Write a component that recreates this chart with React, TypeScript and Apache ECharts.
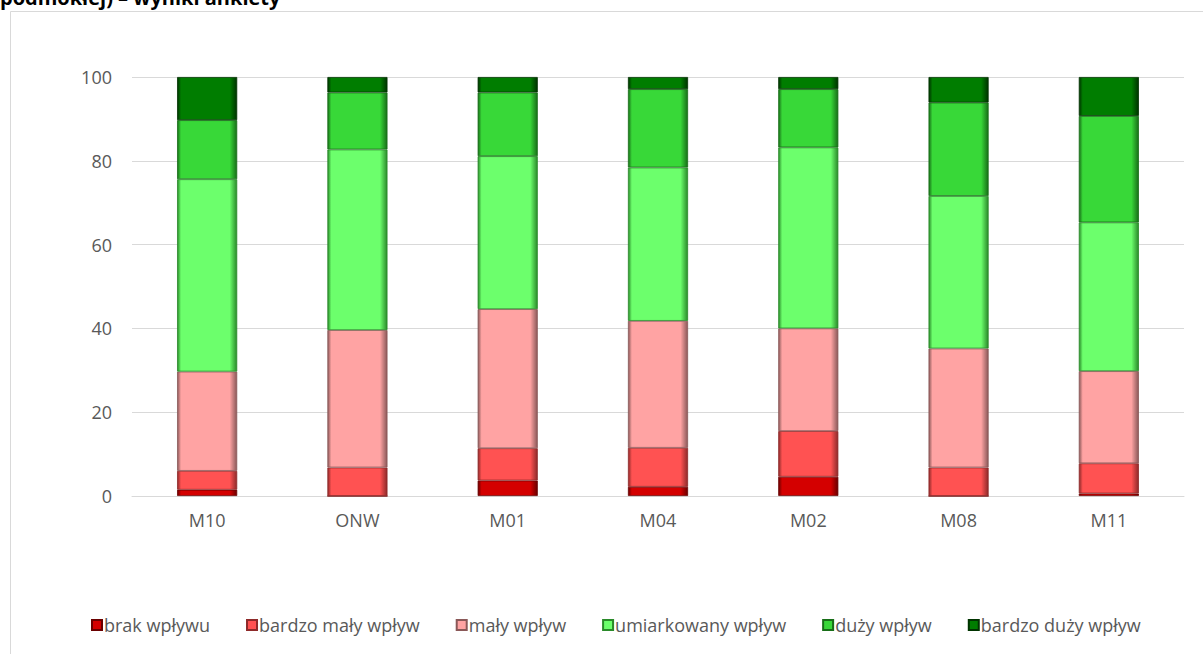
import React, { useEffect, useRef } from "react";
import * as echarts from "echarts";

const categories = ["M10", "ONW", "M01", "M04", "M02", "M08", "M11"];
const seriesNames = [
  "brak wpływu",
  "bardzo mały wpływ",
  "mały wpływ",
  "umiarkowany wpływ",
  "duży wpływ",
  "bardzo duży wpływ",
];
const brakWplywu = [1.5, 0, 3.7, 2.2, 4.6, 0, 0.6];
const bardzoMalyWplyw = [4.5, 6.8, 7.7, 9.3, 10.9, 6.8, 7.2];
const malyWplyw = [23.7, 32.8, 33.2, 30.3, 24.5, 28.4, 22.0];
const umiarkowanyWplyw = [45.9, 43.1, 36.5, 36.6, 43.2, 36.4, 35.5];
const duzyWplyw = [14.1, 13.6, 15.2, 18.7, 13.9, 22.3, 25.4];
const bardzoDuzyWplyw = [10.3, 3.7, 3.7, 2.9, 2.9, 6.1, 9.3];
const yTicks = [0, 20, 40, 60, 80, 100];
const titleText = "podmokłej) – wyniki ankiety";

const baseColors = ["#D40000", "#FF5252", "#FFA3A3", "#6CFF6C", "#38D838", "#007D00"];
const edgeColors = ["#6A0000", "#8E2A2A", "#8A5858", "#2A8A2A", "#186E18", "#003300"];

function fillFor(i: number) {
  return new echarts.graphic.LinearGradient(0, 0, 1, 0, [
    { offset: 0, color: edgeColors[i] },
    { offset: 0.06, color: baseColors[i] },
    { offset: 0.88, color: baseColors[i] },
    { offset: 1, color: edgeColors[i] },
  ]);
}

export default function App() {
  const ref = useRef<HTMLDivElement>(null);
  useEffect(() => {
    if (!ref.current) return;
    const chart = echarts.init(ref.current, null, { renderer: "svg" });
    const dataSets = [brakWplywu, bardzoMalyWplyw, malyWplyw, umiarkowanyWplyw, duzyWplyw, bardzoDuzyWplyw];
    const font = "'Open Sans', 'Noto Sans', sans-serif";
    chart.setOption({
      animation: false,
      backgroundColor: "#ffffff",
      textStyle: { fontFamily: font },
      grid: { left: 132, right: 19, top: 77, bottom: 158 },
      graphic: [
        {
          type: "rect",
          shape: { x: 10.5, y: 11.5, width: 1210, height: 700 },
          style: { fill: "none", stroke: "#d9d9d9", lineWidth: 1 },
          silent: true,
          z: -10,
        },
        {
          type: "text",
          x: 0,
          y: -3,
          style: {
            text: titleText,
            fill: "#000000",
            font: "bold 20px 'Open Sans', sans-serif",
            verticalAlign: "middle",
            align: "left",
          },
        },
      ],
      legend: {
        data: seriesNames.map((n, i) => ({ name: n, itemStyle: { color: fillFor(i) } })),
        bottom: 15,
        left: 86,
        itemWidth: 10,
        itemHeight: 10,
        itemGap: 36,
        icon: "rect",
        textStyle: { color: "#595959", fontSize: 18, fontFamily: font, padding: [0, 0, 0, -3] },
      },
      xAxis: {
        type: "category",
        data: categories,
        axisLine: { show: true, lineStyle: { color: "#d9d9d9", width: 1 } },
        axisTick: { show: false },
        axisLabel: { color: "#595959", fontSize: 18, margin: 15, fontFamily: font },
      },
      yAxis: {
        type: "value",
        min: 0,
        max: 100,
        interval: 20,
        axisLine: { show: false },
        axisTick: { show: false },
        splitLine: { lineStyle: { color: "#d9d9d9", width: 1 } },
        axisLabel: {
          color: "#595959",
          fontSize: 18,
          margin: 20,
          fontFamily: font,
          formatter: (v: number) => (yTicks.includes(v) ? String(v) : ""),
        },
      },
      series: seriesNames.map((name, i) => ({
        name,
        type: "bar",
        stack: "total",
        barWidth: "40%",
        data: dataSets[i],
        itemStyle: {
          color: fillFor(i),
          borderColor: edgeColors[i],
          borderWidth: 0.8,
        },
      })),
    });
    return () => chart.dispose();
  }, []);
  return (
    <div
      ref={ref}
      style={{ position: "fixed", left: 0, top: 0, width: 1203, height: 654 }}
    />
  );
}
